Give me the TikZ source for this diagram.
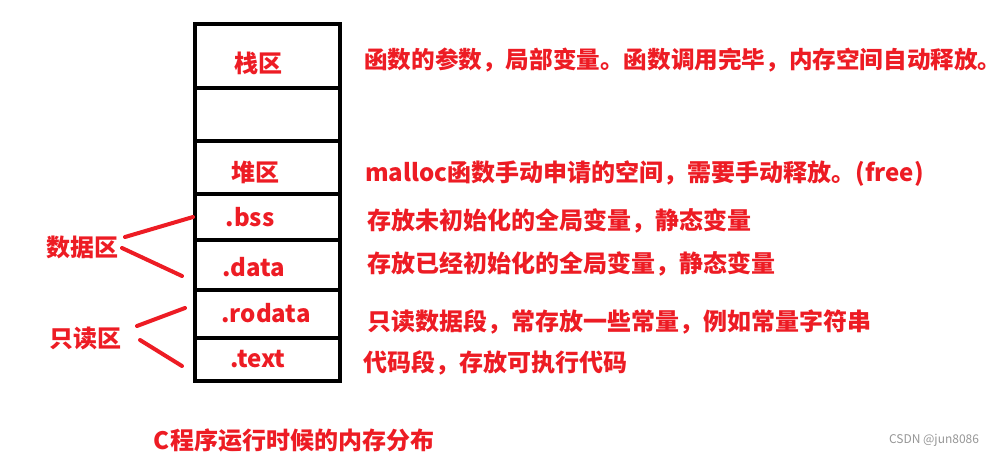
\documentclass[tikz,border=0pt]{standalone}
\usepackage{fontspec}
\setmainfont{Noto Sans CJK SC}
\newfontfamily\cjk{Noto Sans CJK SC}
\definecolor{pen}{RGB}{237,28,36}
\definecolor{mark}{RGB}{150,150,150}

\begin{document}
\begin{tikzpicture}[x=1pt, y=-1pt,
        cell/.style={draw, line width=4pt, minimum width=145pt, inner sep=0pt},
        reg/.style={text=pen, font=\cjk\bfseries\fontsize{24}{24}\selectfont, inner sep=0pt},
        info/.style={reg, anchor=west},
        brace/.style={draw=pen, line width=4pt, line cap=round}]

        \useasboundingbox (0,0) rectangle (1003,456);

        % memory cells, from top to bottom
        \node[cell, minimum height=64pt] (stack) at (267.5, 56) {};
        \node[cell, minimum height=53pt] (gap) at (267.5, 114.5) {};
        \node[cell, minimum height=53pt] (heap) at (267.5, 167.5) {};
        \node[cell, minimum height=46pt] (bss) at (267.5, 217) {};
        \node[cell, minimum height=50pt] (data) at (267.5, 265) {};
        \node[cell, minimum height=48pt] (rodata) at (267.5, 314) {};
        \node[cell, minimum height=43pt] (text) at (267.5, 359.5) {};

        \node[reg] (stack_l) at (258, 63) {栈区};
        \node[reg] (heap_l) at (255, 172) {堆区};
        \node[reg] (bss_l) at (250, 217) {.bss};
        \node[reg] (data_l) at (254, 267) {.data};
        \node[reg] (rodata_l) at (266, 313) {.rodata};
        \node[reg] (text_l) at (258, 359) {.text};

        % what each cell holds
        \node[info, font=\cjk\bfseries\fontsize{23.6}{24}\selectfont] (stack_i) at (364, 60) {函数的参数，局部变量。函数调用完毕，内存空间自动释放。};
        \node[info] (heap_i) at (365, 174) {malloc函数手动申请的空间，需要手动释放。(free)};
        \node[info] (bss_i) at (367, 221) {存放未初始化的全局变量，静态变量};
        \node[info] (data_i) at (367, 264) {存放已经初始化的全局变量，静态变量};
        \node[info] (rodata_i) at (367, 322) {只读数据段，常存放一些常量，例如常量字符串};
        \node[info] (text_i) at (363, 363) {代码段，存放可执行代码};

        % groups on the left
        \node[reg] (rw) at (82, 247) {数据区};
        \node[reg] (ro) at (85, 338) {只读区};
        \coordinate (rw_s1) at (125, 237);
        \coordinate (rw_s2) at (122, 248);
        \coordinate (ro_s1) at (137, 326);
        \coordinate (ro_s2) at (140, 340);
        \coordinate (rw_a) at (193, 217);
        \coordinate (rw_b) at (182, 276);
        \coordinate (ro_a) at (185, 308);
        \coordinate (ro_b) at (182, 366);
        \draw[brace] (rw_s1) -- (rw_a);
        \draw[brace] (rw_s2) -- (rw_b);
        \draw[brace] (ro_s1) -- (ro_a);
        \draw[brace] (ro_s2) -- (ro_b);

        \node[reg] (title) at (294, 440) {C程序运行时候的内存分布};
        \node[text=mark, font=\cjk\fontsize{12}{12}\selectfont, inner sep=0pt] (sign) at (934, 440) {CSDN @jun8086};
    \end{tikzpicture}
\end{document}
